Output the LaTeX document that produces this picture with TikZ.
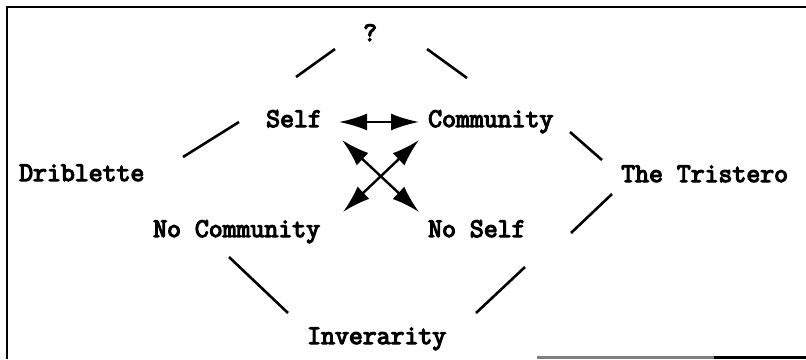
\documentclass[tikz,border=0pt]{standalone}
\usepackage{fontspec}
\newfontfamily\reffont[FakeBold=4.5]{Latin Modern Mono}
\usetikzlibrary{arrows.meta}
\tikzset{
  bighead/.tip={Latex[length=28pt,width=17pt]}
}
\begin{document}
\begin{tikzpicture}[x=1pt,y=-1pt,
  lbl/.style={anchor=base west, inner sep=0pt, text height=14pt, text depth=4pt,
    font=\reffont\fontsize{27}{30}\selectfont},
  conn/.style={line width=2.6pt},
  dbl/.style={line width=2.4pt, bighead-bighead},
  frameline/.style={line width=2.6pt}]
\useasboundingbox (0,0) rectangle (806,359);
% frame
\draw[frameline] (7,359) -- (7,7) -- (806,7);
\draw[frameline, gray] (537,357.5) -- (714,357.5);
\draw[frameline] (714,357.5) -- (806,357.5);
% labels
\node[lbl] (q) at (363,41) {?};
\node[lbl] (self) at (266,127) {Self};
\node[lbl] (comm) at (428,127) {Community};
\node[lbl] (drib) at (19,181) {Driblette};
\node[lbl] (tris) at (621,182) {The Tristero};
\node[lbl] (nocomm) at (153,237) {No Community};
\node[lbl] (noself) at (428,237) {No Self};
\node[lbl] (inv) at (307,344) {Inverarity};
% connector end points
\coordinate (a1) at (296,77);  \coordinate (a2) at (335,49);
\coordinate (b1) at (427,49);  \coordinate (b2) at (467,78);
\coordinate (c1) at (183,157); \coordinate (c2) at (239,122);
\coordinate (d1) at (570,132); \coordinate (d2) at (602,160);
\coordinate (e1) at (571,233); \coordinate (e2) at (612,194);
\coordinate (f1) at (229,257); \coordinate (f2) at (288,313);
\coordinate (g1) at (476,313); \coordinate (g2) at (525,267);
\coordinate (h1) at (342,140); \coordinate (h2) at (419,212);
\coordinate (k1) at (419,140); \coordinate (k2) at (343,212);
% plain connectors
\draw[conn] (a1) -- (a2);
\draw[conn] (b1) -- (b2);
\draw[conn] (c1) -- (c2);
\draw[conn] (d1) -- (d2);
\draw[conn] (e1) -- (e2);
\draw[conn] (f1) -- (f2);
\draw[conn] (g1) -- (g2);
% arrows
\draw[dbl, shorten <=17pt, shorten >=9pt] (self.east) -- (comm.west);
\draw[dbl] (h1) -- (h2);
\draw[dbl] (k1) -- (k2);
\end{tikzpicture}
\end{document}
